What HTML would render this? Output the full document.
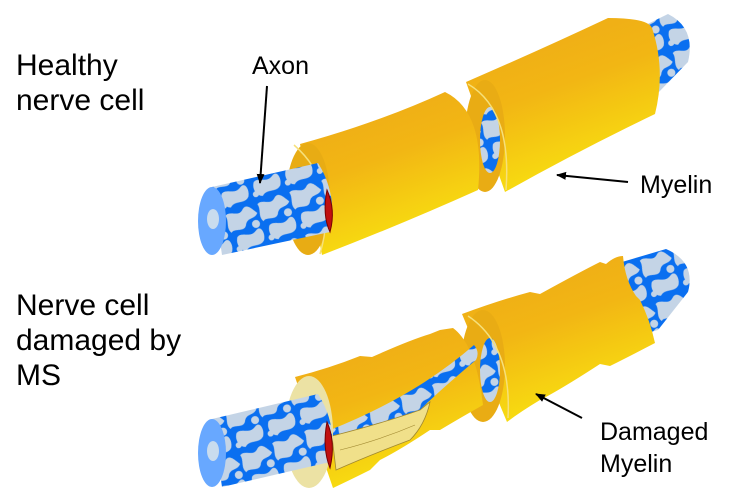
<!DOCTYPE html>
<html><head><meta charset="utf-8"><style>
html,body{margin:0;padding:0;background:#fff;width:750px;height:500px;overflow:hidden}
svg{display:block}
text{font-family:"Liberation Sans",Arial,sans-serif;fill:#000}
</style></head><body>
<svg width="750" height="500" viewBox="0 0 750 500" xmlns="http://www.w3.org/2000/svg">
<defs>
<linearGradient id="my" x1="0" y1="0" x2="0.4" y2="1">
<stop offset="0" stop-color="#eda818"/><stop offset="0.5" stop-color="#f2b614"/><stop offset="1" stop-color="#f8e010"/></linearGradient>
<pattern id="ax" width="34" height="46" patternUnits="userSpaceOnUse" patternTransform="rotate(-20)">
<rect width="34" height="46" fill="#0a6ff0"/>
<path d="M2 4 C8 0 14 10 20 4 C26 -2 30 8 33 12 C28 18 22 12 18 20 C14 26 6 18 2 22 C-2 16 4 10 2 4Z" fill="#c4d4e6"/>
<path d="M6 28 C12 24 18 34 26 28 C32 24 34 34 30 40 C24 46 16 38 10 44 C4 42 2 34 6 28Z" fill="#c4d4e6"/>
<circle cx="28" cy="22" r="4" fill="#c4d4e6"/><circle cx="4" cy="40" r="3" fill="#c4d4e6"/>
</pattern>
<marker id="ar" markerWidth="10" markerHeight="10" refX="9" refY="5" orient="auto" markerUnits="userSpaceOnUse">
<path d="M0 1 L10 5 L0 9 Z" fill="#000"/></marker>
</defs>

<!-- TOP NERVE -->
<path d="M625 35 L668 14 Q696 28 688 62 L656 95 L640 100 Z" fill="url(#ax)"/>
<path d="M475 108 L498 104 L505 170 L480 176 Z" fill="url(#ax)"/>
<path d="M466 82 Q540 50 608 18 Q648 18 652 28 Q666 70 655 114 Q580 150 505 192 Z" fill="url(#my)"/>
<ellipse cx="485" cy="136" rx="20" ry="56" fill="#e9ac14"/>
<ellipse cx="490" cy="140" rx="10" ry="33" fill="url(#ax)"/>
<path d="M468 84 Q512 110 506 190" stroke="#f6e07a" stroke-width="1.5" fill="none"/>
<path d="M300 144 Q380 122 445 92 Q486 112 478 190 Q400 225 322 255 Z" fill="url(#my)"/>
<ellipse cx="308" cy="199" rx="22" ry="56" fill="#e8ac14"/>
<path d="M294 145 Q340 185 320 254" stroke="#f6e07a" stroke-width="1.5" fill="none"/>
<path d="M212 187 L318 163 Q338 195 330 232 L222 255 Z" fill="url(#ax)"/>
<ellipse cx="212" cy="221" rx="14" ry="34" fill="#68a8ff"/>
<ellipse cx="213" cy="219" rx="6" ry="10" fill="#c9dcee"/>
<path d="M327 190 Q336 210 330 232 Q322 215 327 190 Z" fill="#c01010" stroke="#700" stroke-width="1"/>

<!-- BOTTOM NERVE -->
<path d="M622 262 L666 249 Q696 262 688 292 L658 330 L640 335 Z" fill="url(#ax)"/>
<path d="M470 344 L492 340 L502 400 L478 405 Z" fill="url(#ax)"/>
<path d="M462 314 Q500 300 530 292 L540 294 Q580 272 600 262 L606 264 Q615 256 623 256 Q625 280 636 296 L640 300 Q650 320 655 343 Q630 356 610 366 L600 364 Q560 390 540 400 Q520 412 507 422 Z" fill="url(#my)"/>
<ellipse cx="483" cy="366" rx="22" ry="56" fill="#e9ac14"/>
<ellipse cx="490" cy="370" rx="10" ry="32" fill="url(#ax)"/>
<path d="M468 316 Q512 345 508 418" stroke="#f6e07a" stroke-width="1.5" fill="none"/>
<path d="M295 377 Q330 368 360 356 L372 357 Q410 340 430 334 L440 330 L453 328 Q476 345 483 405 Q460 418 440 430 L430 430 Q400 450 380 460 L370 470 Q350 480 333 488 Z" fill="url(#my)"/>
<path d="M330 430 Q380 410 420 385 Q450 366 474 345 Q480 352 476 360 Q440 390 420 410 L330 440 Z" fill="url(#ax)"/>
<path d="M332 436 Q380 424 420 410 L430 402 Q425 425 410 440 Q370 455 336 470 Z" fill="#f0e08a" stroke="#a08830" stroke-width="0.8"/>
<path d="M340 450 Q380 440 415 425" stroke="#a08830" stroke-width="0.6" fill="none"/>
<ellipse cx="309" cy="432" rx="24" ry="56" fill="#ece2a4"/>
<path d="M212 419 L318 394 Q338 425 330 462 L222 487 Z" fill="url(#ax)"/>
<ellipse cx="212" cy="453" rx="14" ry="34" fill="#68a8ff"/>
<ellipse cx="213" cy="451" rx="6" ry="10" fill="#c9dcee"/>
<path d="M327 422 Q336 442 330 468 Q322 448 327 422 Z" fill="#c01010" stroke="#700" stroke-width="1"/>

<!-- labels -->
<text x="16" y="75" font-size="30">Healthy</text>
<text x="16" y="110" font-size="30">nerve cell</text>
<text x="16" y="315" font-size="30">Nerve cell</text>
<text x="16" y="350" font-size="30">damaged by</text>
<text x="16" y="385" font-size="30">MS</text>
<text x="252" y="74" font-size="25">Axon</text>
<text x="640" y="193" font-size="25">Myelin</text>
<text x="600" y="440" font-size="25">Damaged</text>
<text x="600" y="472" font-size="25">Myelin</text>
<line x1="267" y1="86" x2="260" y2="183" stroke="#000" stroke-width="2" marker-end="url(#ar)"/>
<line x1="628" y1="182" x2="557" y2="175" stroke="#000" stroke-width="2" marker-end="url(#ar)"/>
<line x1="582" y1="418" x2="536" y2="394" stroke="#000" stroke-width="2" marker-end="url(#ar)"/>
</svg>
</body></html>
